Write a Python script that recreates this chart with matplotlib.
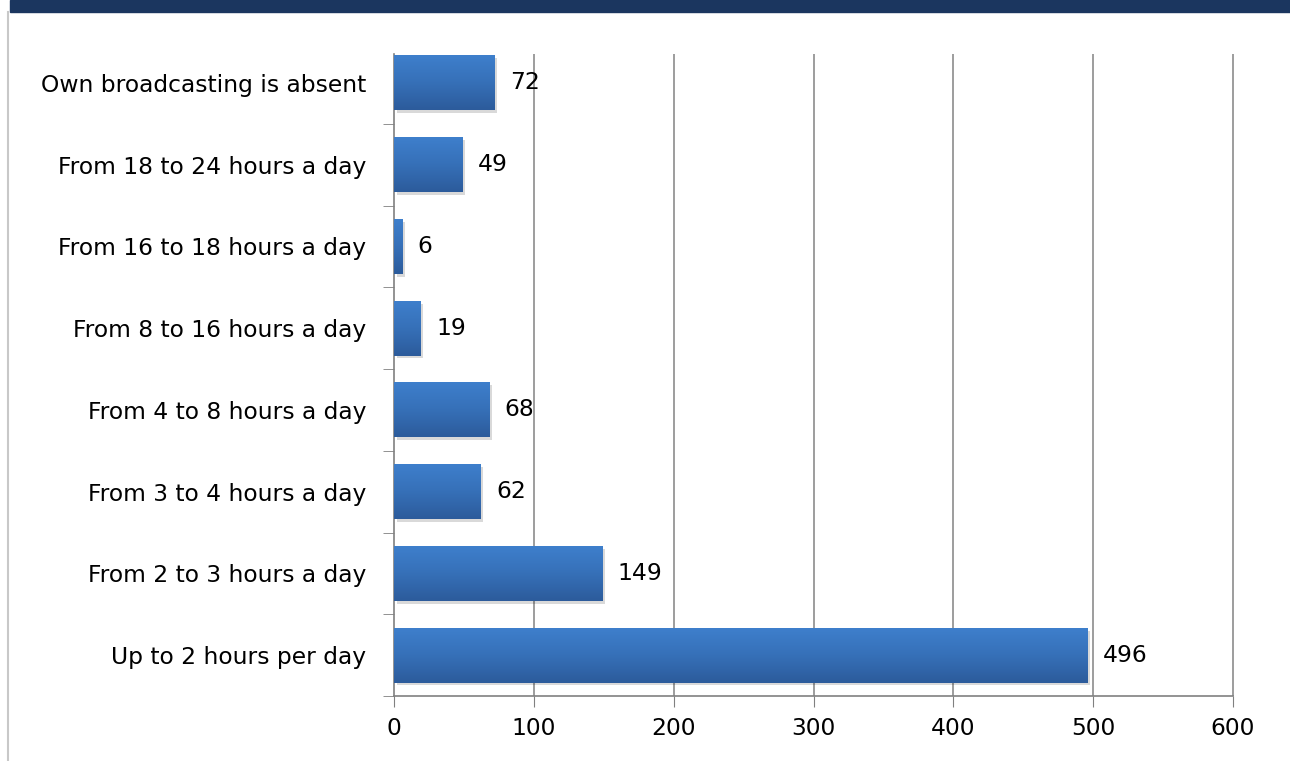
import numpy as np
import matplotlib
matplotlib.use("Agg")
import matplotlib.pyplot as plt
from matplotlib import patheffects as pe
from matplotlib.colors import LinearSegmentedColormap
from matplotlib.patches import Rectangle

categories = [
    "Up to 2 hours per day",
    "From 2 to 3 hours a day",
    "From 3 to 4 hours a day",
    "From 4 to 8 hours a day",
    "From 8 to 16 hours a day",
    "From 16 to 18 hours a day",
    "From 18 to 24 hours a day",
    "Own broadcasting is absent",
]
values = [496, 149, 62, 68, 19, 6, 49, 72]
x_ticks = [0, 100, 200, 300, 400, 500, 600]

plt.rcParams["font.family"] = ["DejaVu Sans"]
FS = 16.8

fig = plt.figure(figsize=(12.9, 7.61), dpi=100)
fig.patch.set_facecolor("white")

# header band and left frame line
fig.add_artist(Rectangle((10 / 1290, 1 - 12 / 761), 1 - 10 / 1290, 12 / 761,
                         transform=fig.transFigure, color="#1b365f", zorder=0))
fig.add_artist(plt.Line2D([8 / 1290, 8 / 1290], [0, 1 - 12 / 761],
                          transform=fig.transFigure, color="#c8c8c8", lw=1.5))

ax = fig.add_axes([394 / 1290, 1 - 696 / 761, (1233 - 394) / 1290, (696 - 42) / 761])

ypos = np.arange(len(categories))
bar_h = 0.67
line_top = len(categories) - 0.5 - 0.15   # vertical lines stop a little below the top slot edge
grad = LinearSegmentedColormap.from_list("bar", ["#2c5b9b", "#3670b8", "#3e7fcc"])
g = np.linspace(0, 1, 256).reshape(-1, 1)

for y, v in zip(ypos, values):
    r = Rectangle((0, y - bar_h / 2), v, bar_h, facecolor="#3a78c4", edgecolor="none", zorder=3,
                  path_effects=[pe.SimplePatchShadow(offset=(2, -2), shadow_rgbFace="#000000",
                                                     alpha=0.15), pe.Normal()])
    ax.add_patch(r)
    im = ax.imshow(g, cmap=grad, aspect="auto", origin="lower",
                   extent=(0, v, y - bar_h / 2, y + bar_h / 2), zorder=4)
    im.set_clip_path(r)
    ax.text(v + 11, y, str(v), va="center", ha="left", fontsize=FS, color="black", zorder=5)

ax.set_xlim(0, 600)
ax.set_ylim(-0.5, len(categories) - 0.5)
ax.set_xticks(x_ticks)
ax.set_xticklabels([str(t) for t in x_ticks], fontsize=FS)
ax.set_yticks(ypos)
ax.set_yticklabels(categories, fontsize=FS)
ax.tick_params(axis="y", length=0, pad=20)
ax.set_yticks(np.arange(-0.5, len(categories) - 1, 1.0), minor=True)
ax.tick_params(axis="y", which="minor", length=8, color="#808080", direction="out")
ax.tick_params(axis="x", length=8, color="#808080", direction="out", pad=7)

ax.vlines(x_ticks[1:], -0.5, line_top, colors="#8c8c8c", lw=1.2, zorder=1, clip_on=False)
for s in ["top", "right"]:
    ax.spines[s].set_visible(False)
for s in ["left", "bottom"]:
    ax.spines[s].set_color("#808080")
    ax.spines[s].set_linewidth(1.2)
ax.spines["left"].set_bounds(-0.5, line_top)

fig.savefig("out.png", dpi=100, facecolor="white")
